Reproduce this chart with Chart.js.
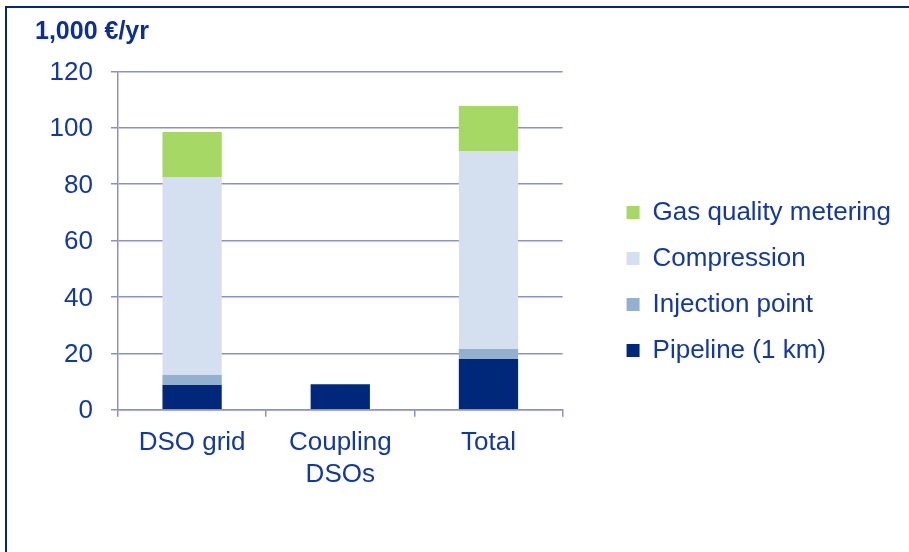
<!DOCTYPE html>
<html lang="en">
<head>
    <meta charset="UTF-8">
    <title>Annual costs - 1,000 €/yr</title>
    <script src="https://cdn.jsdelivr.net/npm/chart.js"></script>
    <style>
        body {
            margin: 0;
            background: #ffffff;
            overflow: hidden;
        }
        .frame {
            position: absolute;
            left: 5px;
            top: 6px;
            width: 1000px;
            height: 1000px;
            border-left: 2px solid #00287f;
            border-top: 2px solid #00287f;
        }
        .chart-box {
            position: absolute;
            left: 0;
            top: 0;
            width: 909px;
            height: 552px;
        }
    </style>
</head>
<body>
    <div class="frame"></div>
    <div class="chart-box">
        <canvas id="costChart"></canvas>
    </div>

    <script>
        // --- data (1,000 €/yr) ---
        const categories = ['DSO grid', ['Coupling', 'DSOs'], 'Total'];
        const pipeline = [8.8, 9.0, 18.0];
        const injectionPoint = [3.5, 0, 3.5];
        const compression = [70.2, 0, 70.1];
        const gasQuality = [16.0, 0, 16.1];
        const yTicks = [0, 20, 40, 60, 80, 100, 120];

        const textBlue = '#1238a8';
        const gridColor = '#8b8fcb';

        Chart.defaults.font.family = "'Liberation Sans', Arial, sans-serif";
        Chart.defaults.color = textBlue;

        const ctx = document.getElementById('costChart').getContext('2d');
        new Chart(ctx, {
            type: 'bar',
            data: {
                labels: categories,
                datasets: [
                    { label: 'Pipeline (1 km)', data: pipeline, backgroundColor: '#00287a' },
                    { label: 'Injection point', data: injectionPoint, backgroundColor: '#93b0cf' },
                    { label: 'Compression', data: compression, backgroundColor: '#d4dfef' },
                    { label: 'Gas quality metering', data: gasQuality, backgroundColor: '#a6d866' }
                ]
            },
            options: {
                responsive: true,
                maintainAspectRatio: false,
                animation: false,
                devicePixelRatio: 1,
                datasets: {
                    bar: { barPercentage: 0.4, categoryPercentage: 1.0, borderWidth: 0 }
                },
                layout: {
                    padding: { top: 11, left: 35, right: 8, bottom: 0 }
                },
                plugins: {
                    title: {
                        display: true,
                        text: '1,000 €/yr',
                        align: 'start',
                        color: '#0b2f99',
                        font: { size: 25, weight: 'bold' },
                        padding: { top: 6, bottom: 24.3 }
                    },
                    legend: {
                        position: 'right',
                        reverse: true,
                        maxWidth: 340,
                        labels: {
                            color: textBlue,
                            font: { size: 26 },
                            boxWidth: 13,
                            boxHeight: 13,
                            padding: 20
                        }
                    },
                    tooltip: { enabled: false }
                },
                scales: {
                    x: {
                        stacked: true,
                        grid: {
                            drawOnChartArea: false,
                            drawTicks: true,
                            tickLength: 7,
                            color: gridColor,
                            lineWidth: 1.5
                        },
                        border: { color: gridColor, width: 1.5 },
                        ticks: {
                            color: textBlue,
                            font: { size: 26, lineHeight: 1.22 },
                            padding: 10.5,
                            maxRotation: 0
                        },
                        afterFit: scale => { scale.height = 142.3; }
                    },
                    y: {
                        stacked: true,
                        min: 0,
                        max: 120,
                        afterBuildTicks: scale => {
                            scale.ticks = yTicks.map(v => ({ value: v }));
                        },
                        grid: {
                            color: gridColor,
                            lineWidth: 1.5,
                            tickLength: 7
                        },
                        border: { color: gridColor, width: 1.5 },
                        ticks: {
                            color: textBlue,
                            font: { size: 26 },
                            padding: 18,
                            labelOffset: 1.5
                        },
                        afterFit: scale => { scale.width = 83; }
                    },
                    // empty spacer between plot and legend
                    gap: {
                        type: 'linear',
                        position: 'right',
                        grid: { display: false },
                        border: { display: false },
                        ticks: { display: false },
                        afterFit: scale => { scale.width = 44; }
                    }
                }
            }
        });
    </script>
</body>
</html>
